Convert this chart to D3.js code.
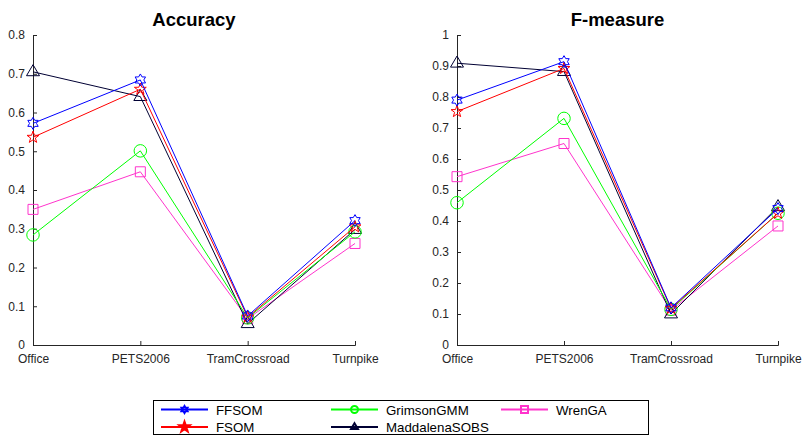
<!DOCTYPE html>
<html>
<head>
<meta charset="utf-8">
<script src="https://cdn.jsdelivr.net/npm/d3@7"></script>
<style>
  body { margin: 0; background: #fff; }
  svg { font-family: "Liberation Sans", Arial, sans-serif; }
</style>
</head>
<body>
<svg id="chart" width="804" height="436"></svg>
<script>
// data
var categories = ["Office", "PETS2006", "TramCrossroad", "Turnpike"];
var seriesNames = ["FFSOM", "FSOM", "GrimsonGMM", "MaddalenaSOBS", "WrenGA"];

var accFFSOM      = [0.572, 0.684, 0.075, 0.321];
var accFSOM       = [0.536, 0.660, 0.072, 0.305];
var accGrimson    = [0.284, 0.501, 0.070, 0.292];
var accMaddalena  = [0.705, 0.641, 0.055, 0.298];
var accWren       = [0.350, 0.447, 0.068, 0.262];

var fmFFSOM       = [0.790, 0.914, 0.120, 0.440];
var fmFSOM        = [0.753, 0.892, 0.118, 0.425];
var fmGrimson     = [0.459, 0.731, 0.115, 0.425];
var fmMaddalena   = [0.909, 0.882, 0.100, 0.446];
var fmWren        = [0.543, 0.650, 0.112, 0.384];

var accTicks = [0, 0.1, 0.2, 0.3, 0.4, 0.5, 0.6, 0.7, 0.8];
var fmTicks  = [0, 0.1, 0.2, 0.3, 0.4, 0.5, 0.6, 0.7, 0.8, 0.9, 1];

var colors  = ["#0000ff", "#ff0000", "#00ff00", "#000033", "#ff33cc"];
var markers = ["hexagram", "pentagram", "circle", "triangle", "square"];
var markerSize = {hexagram: 12, pentagram: 12.5, circle: 12.5, triangle: 13, square: 10};

var svg = d3.select("#chart");
var axisColor = "#262626";

// marker path generator, s = rough width in px
var markerPath = function(type, s) {
    if (type === "circle") {
        return d3.symbol().type(d3.symbolCircle).size(Math.PI * s * s / 4)();
    }
    if (type === "square") {
        return d3.symbol().type(d3.symbolSquare).size(s * s)();
    }
    if (type === "triangle") {
        var hw = s / 2;
        return "M0," + (-s * 0.55) + "L" + hw + "," + (s * 0.3) + "L" + (-hw) + "," + (s * 0.3) + "Z";
    }
    var n = type === "hexagram" ? 6 : 5;
    var ro = s / 2, ri = type === "hexagram" ? ro * 0.58 : ro * 0.4;
    var pts = [];
    for (var i = 0; i < n * 2; i++) {
        var a = -Math.PI / 2 + i * Math.PI / n;
        var rr = i % 2 === 0 ? ro : ri;
        pts.push([rr * Math.cos(a), rr * Math.sin(a)]);
    }
    return "M" + pts.map(function(p) { return p[0].toFixed(2) + "," + p[1].toFixed(2); }).join("L") + "Z";
};

var drawPanel = function(cfg) {
    var g = svg.append("g");
    var x = d3.scalePoint().domain(categories).range([cfg.x0, cfg.x1]).padding(0);
    var y = d3.scaleLinear().domain([0, cfg.ymax]).range([345, 35]);

    // axes (MATLAB style, ticks inward)
    var yAxis = g.append("g")
        .attr("transform", "translate(" + cfg.x0 + ",0)")
        .call(d3.axisLeft(y).tickValues(cfg.ticks).tickSize(-4).tickPadding(8)
              .tickFormat(function(d) { return d3.format("")(+d.toFixed(1)); }));
    var xAxis = g.append("g")
        .attr("transform", "translate(0,345)")
        .call(d3.axisBottom(x).tickSize(-4).tickPadding(9));
    [xAxis, yAxis].forEach(function(a) {
        a.select(".domain").attr("stroke", axisColor);
        a.selectAll(".tick line").attr("stroke", axisColor);
        a.selectAll("text").attr("fill", axisColor).style("font-size", "12px")
            .style("font-family", "'Liberation Sans', Arial, sans-serif");
    });

    g.append("text")
        .attr("x", (cfg.x0 + cfg.x1) / 2)
        .attr("y", 26)
        .attr("text-anchor", "middle")
        .style("font-size", "18.5px")
        .style("font-weight", "bold")
        .text(cfg.title);

    var line = d3.line()
        .x(function(d, i) { return x(categories[i]); })
        .y(function(d) { return y(d); });

    // draw in reverse so FFSOM ends on top
    for (var k = cfg.series.length - 1; k >= 0; k--) {
        var vals = cfg.series[k];
        g.append("path")
            .attr("d", line(vals))
            .attr("fill", "none")
            .attr("stroke", colors[k])
            .attr("stroke-width", 1);
        g.selectAll(".m" + k).data(vals).enter().append("path")
            .attr("class", "m" + k)
            .attr("transform", function(d, i) { return "translate(" + x(categories[i]) + "," + y(d) + ")"; })
            .attr("d", markerPath(markers[k], markerSize[markers[k]]))
            .attr("fill", "none")
            .attr("stroke", colors[k])
            .attr("stroke-width", 1);
    }
};

drawPanel({
    title: "Accuracy", x0: 33, x1: 355, ymax: 0.8, ticks: accTicks,
    series: [accFFSOM, accFSOM, accGrimson, accMaddalena, accWren]
});
drawPanel({
    title: "F-measure", x0: 457, x1: 778, ymax: 1, ticks: fmTicks,
    series: [fmFFSOM, fmFSOM, fmGrimson, fmMaddalena, fmWren]
});

// legend
var legend = svg.append("g");
legend.append("rect")
    .attr("x", 153.5).attr("y", 400.5)
    .attr("width", 495).attr("height", 34)
    .attr("fill", "#fff").attr("stroke", "#000").attr("stroke-width", 1);

var legendCols = [161, 331, 501];
var legendRows = [409.5, 427];
seriesNames.forEach(function(name, k) {
    var col = Math.floor(k / 2), row = k % 2;
    var lx = legendCols[col], ly = legendRows[row];
    var item = legend.append("g");
    item.append("line")
        .attr("x1", lx).attr("x2", lx + 47)
        .attr("y1", ly).attr("y2", ly)
        .attr("stroke", colors[k]).attr("stroke-width", 2);
    item.append("path")
        .attr("transform", "translate(" + (lx + 23.5) + "," + ly + ")")
        .attr("d", markerPath(markers[k], markers[k] === "pentagram" ? 11 : 7))
        .attr("fill", markers[k] === "pentagram" ? colors[k] : "none")
        .attr("stroke", colors[k]).attr("stroke-width", 2);
    item.append("text")
        .attr("x", lx + 55).attr("y", ly + 5)
        .style("font-size", "13.3px")
        .attr("fill", "#000")
        .text(name);
});
</script>
</body>
</html>
